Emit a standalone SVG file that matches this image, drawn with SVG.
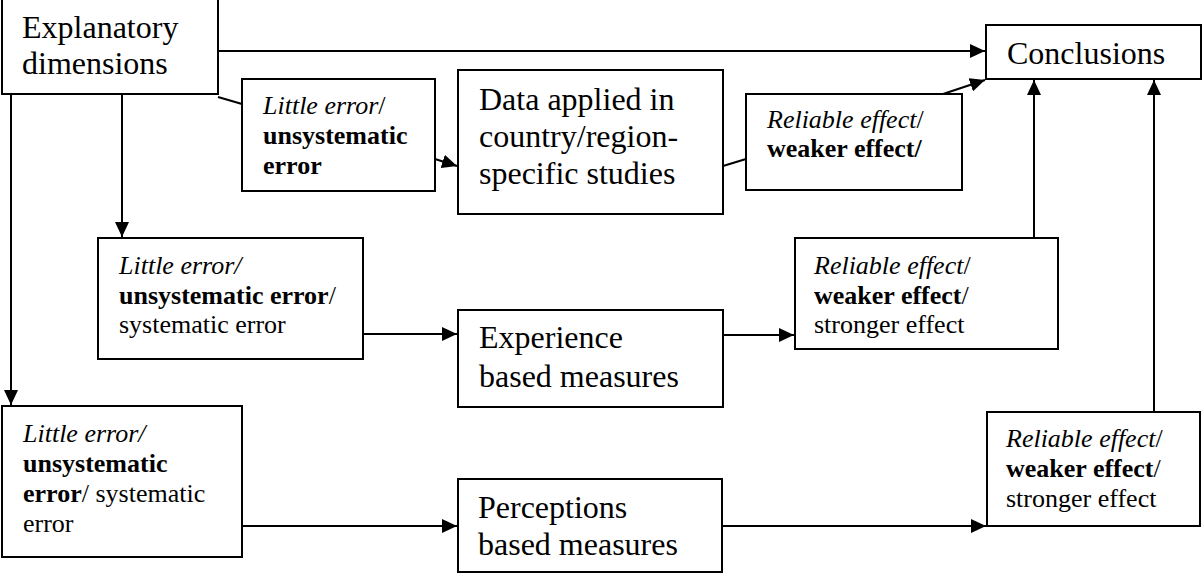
<svg xmlns="http://www.w3.org/2000/svg" width="1202" height="573" viewBox="0 0 1202 573" font-family="'Liberation Serif', 'DejaVu Serif', serif">
<style>
.box{fill:#fff;stroke:#000;stroke-width:2}
.ln{fill:none;stroke:#000;stroke-width:2}
text{font-family:'Liberation Serif','DejaVu Serif',serif;fill:#000}
.big{font-size:32px}
.sm{font-size:26px}
.i{font-style:italic}
.b{font-weight:bold}
</style>
<defs>
<marker id="ah" markerUnits="userSpaceOnUse" markerWidth="16" markerHeight="14" refX="15" refY="7" orient="auto">
<path d="M0,0 L15,7 L0,14 Z" fill="#000"/>
</marker>
</defs>
<g id="connectors">
<line class="ln" x1="218" y1="51" x2="985" y2="51" marker-end="url(#ah)"/>
<line class="ln" x1="218" y1="97" x2="242" y2="104"/>
<line class="ln" x1="435" y1="159" x2="457" y2="166" marker-end="url(#ah)"/>
<line class="ln" x1="723" y1="166" x2="746" y2="159"/>
<line class="ln" x1="943" y1="94" x2="985" y2="80" marker-end="url(#ah)"/>
<line class="ln" x1="11" y1="94" x2="11" y2="405" marker-end="url(#ah)"/>
<line class="ln" x1="122" y1="94" x2="122" y2="237" marker-end="url(#ah)"/>
<line class="ln" x1="363" y1="334" x2="457" y2="334" marker-end="url(#ah)"/>
<line class="ln" x1="723" y1="335" x2="794" y2="335" marker-end="url(#ah)"/>
<line class="ln" x1="242" y1="526" x2="457" y2="526" marker-end="url(#ah)"/>
<line class="ln" x1="722" y1="526" x2="986" y2="526" marker-end="url(#ah)"/>
<line class="ln" x1="1034" y1="238" x2="1034" y2="80" marker-end="url(#ah)"/>
<line class="ln" x1="1154" y1="412" x2="1154" y2="80" marker-end="url(#ah)"/>
</g>
<g id="explanatory">
<rect class="box" x="2" y="-1" width="216" height="95"/>
<text class="big" x="22" y="38">Explanatory</text>
<text class="big" x="22" y="74">dimensions</text>
</g>
<g id="conclusions">
<rect class="box" x="986" y="25" width="215" height="54"/>
<text class="big" x="1007" y="64">Conclusions</text>
</g>
<g id="error1">
<rect class="box" x="242" y="79" width="193" height="112"/>
<text class="sm" x="263" y="114"><tspan class="i">Little error</tspan>/</text>
<text class="sm b" x="263" y="144">unsystematic</text>
<text class="sm b" x="263" y="174">error</text>
</g>
<g id="data">
<rect class="box" x="458" y="70" width="265" height="144"/>
<text class="big" x="479" y="110">Data applied in</text>
<text class="big" x="479" y="147">country/region-</text>
<text class="big" x="479" y="184">specific studies</text>
</g>
<g id="effect1">
<rect class="box" x="746" y="94" width="216" height="96"/>
<text class="sm" x="767" y="128"><tspan class="i">Reliable effect</tspan>/</text>
<text class="sm b" x="767" y="157">weaker effect/</text>
</g>
<g id="error2">
<rect class="box" x="98" y="238" width="265" height="121"/>
<text class="sm i" x="119" y="274">Little error/</text>
<text class="sm" x="119" y="304"><tspan class="b">unsystematic error</tspan>/</text>
<text class="sm" x="119" y="333">systematic error</text>
</g>
<g id="experience">
<rect class="box" x="458" y="310" width="265" height="97"/>
<text class="big" x="479" y="348">Experience</text>
<text class="big" x="479" y="387">based measures</text>
</g>
<g id="effect2">
<rect class="box" x="795" y="238" width="263" height="111"/>
<text class="sm" x="814" y="274"><tspan class="i">Reliable effect</tspan>/</text>
<text class="sm" x="814" y="304"><tspan class="b">weaker effect</tspan>/</text>
<text class="sm" x="814" y="333">stronger effect</text>
</g>
<g id="error3">
<rect class="box" x="2" y="406" width="240" height="151"/>
<text class="sm i" x="23" y="442">Little error/</text>
<text class="sm b" x="23" y="472">unsystematic</text>
<text class="sm" x="23" y="502"><tspan class="b">error</tspan>/ systematic</text>
<text class="sm" x="23" y="532">error</text>
</g>
<g id="perceptions">
<rect class="box" x="458" y="479" width="264" height="93"/>
<text class="big" x="478" y="518">Perceptions</text>
<text class="big" x="478" y="555">based measures</text>
</g>
<g id="effect3">
<rect class="box" x="987" y="412" width="213" height="114"/>
<text class="sm" x="1006" y="447"><tspan class="i">Reliable effect</tspan>/</text>
<text class="sm" x="1006" y="477"><tspan class="b">weaker effect</tspan>/</text>
<text class="sm" x="1006" y="507">stronger effect</text>
</g>
</svg>
